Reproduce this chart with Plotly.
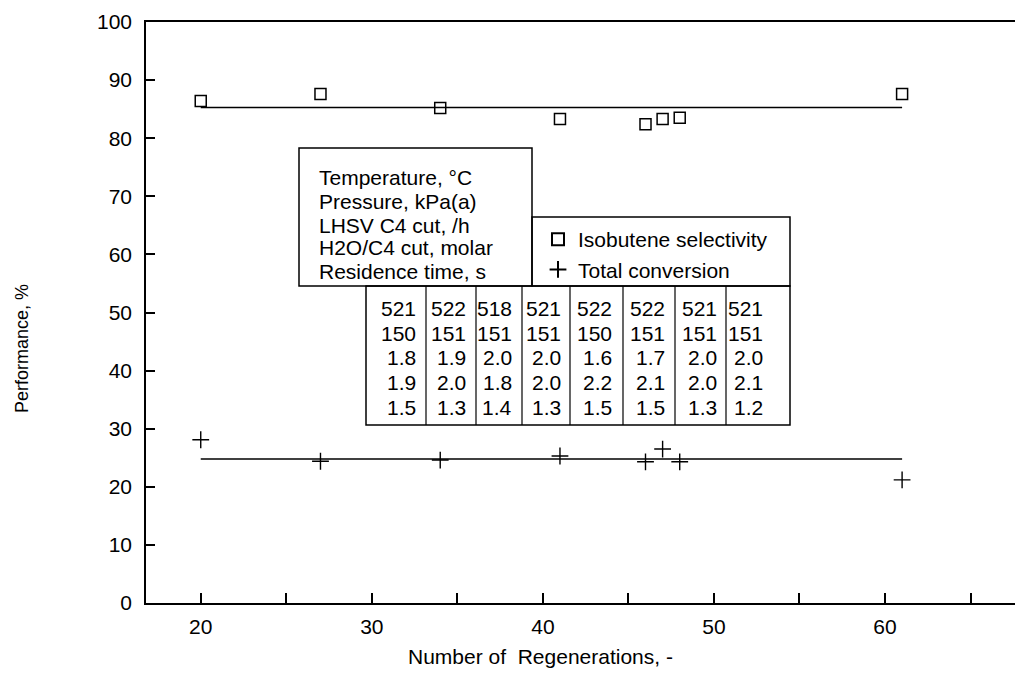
import plotly.graph_objects as go

# ---- data ----
regenerations = [20, 27, 34, 41, 46, 47, 48, 61]
selectivity = [86.4, 87.6, 85.2, 83.3, 82.4, 83.3, 83.5, 87.6]
conversion = [28.1, 24.4, 24.6, 25.3, 24.3, 26.5, 24.3, 21.2]
fit_x = [20, 61]
selectivity_fit = [85.3, 85.3]
conversion_fit = [24.8, 24.8]

row_labels = ["Temperature, °C", "Pressure, kPa(a)", "LHSV C4 cut, /h",
              "H2O/C4 cut, molar", "Residence time, s"]
temperature = ["521", "522", "518", "521", "522", "522", "521", "521"]
pressure = ["150", "151", "151", "151", "150", "151", "151", "151"]
lhsv = ["1.8", "1.9", "2.0", "2.0", "1.6", "1.7", "2.0", "2.0"]
h2o_ratio = ["1.9", "2.0", "1.8", "2.0", "2.2", "2.1", "2.0", "2.1"]
residence = ["1.5", "1.3", "1.4", "1.3", "1.5", "1.5", "1.3", "1.2"]

x_ticks = [20, 25, 30, 35, 40, 45, 50, 55, 60, 65]
x_ticktext = ["20", "", "30", "", "40", "", "50", "", "60", ""]
y_ticks = [0, 10, 20, 30, 40, 50, 60, 70, 80, 90, 100]

# ---- layout helpers (pixel -> paper) ----
W, H = 1015, 673
L, R, T, B = 146, 0, 22, 70
PW, PH = W - L - R, H - T - B


def px(x):
    return (x - L) / PW


def py(y):
    return (H - B - y) / PH


FONT = "Liberation Sans, Arial, sans-serif"
FS = 21

fig = go.Figure()
fig.add_trace(go.Scatter(x=fit_x, y=selectivity_fit, mode="lines",
                         line=dict(color="black", width=1.5), showlegend=False,
                         hoverinfo="skip"))
fig.add_trace(go.Scatter(x=fit_x, y=conversion_fit, mode="lines",
                         line=dict(color="black", width=1.5), showlegend=False,
                         hoverinfo="skip"))
fig.add_trace(go.Scatter(x=regenerations, y=selectivity, mode="markers",
                         name="Isobutene selectivity",
                         marker=dict(symbol="square-open", size=11, color="black",
                                     line=dict(width=1.5))))
fig.add_trace(go.Scatter(x=regenerations, y=conversion, mode="markers",
                         name="Total conversion",
                         marker=dict(symbol="cross-thin-open", size=12, color="black",
                                     line=dict(width=1.4, color="black"))))

shapes = []
# left label box
shapes.append(dict(type="rect", xref="paper", yref="paper",
                   x0=px(299), x1=px(532), y0=py(286), y1=py(148),
                   line=dict(color="black", width=1.5)))
# legend box
shapes.append(dict(type="rect", xref="paper", yref="paper",
                   x0=px(532), x1=px(790), y0=py(286), y1=py(217),
                   line=dict(color="black", width=1.5)))
# table box
shapes.append(dict(type="rect", xref="paper", yref="paper",
                   x0=px(366), x1=px(790), y0=py(425), y1=py(286),
                   line=dict(color="black", width=1.5)))
for dx in [426, 476, 522, 570, 623, 675, 726]:
    shapes.append(dict(type="line", xref="paper", yref="paper",
                       x0=px(dx), x1=px(dx), y0=py(425), y1=py(286),
                       line=dict(color="black", width=1.2)))

annotations = []
label_y = [177, 201, 225, 248, 271]
for txt, yy in zip(row_labels, label_y):
    annotations.append(dict(text=txt, xref="paper", yref="paper", x=px(317), y=py(yy),
                            xanchor="left", yanchor="middle", showarrow=False,
                            font=dict(family=FONT, size=FS, color="black")))

col_right = [418, 468, 514, 563, 614, 667, 719, 765]
row_y = [308, 333, 357, 382, 407]
for rvals, yy in zip([temperature, pressure, lhsv, h2o_ratio, residence], row_y):
    for v, xr in zip(rvals, col_right):
        annotations.append(dict(text=v, xref="paper", yref="paper", x=px(xr), y=py(yy),
                                xanchor="right", yanchor="middle", showarrow=False,
                                font=dict(family=FONT, size=FS, color="black")))

annotations.append(dict(text="Performance, %", xref="paper", yref="paper",
                        x=px(22), y=py(349), textangle=-90, showarrow=False,
                        xanchor="center", yanchor="middle",
                        font=dict(family=FONT, size=18, color="black")))
annotations.append(dict(text="Number of  Regenerations, -", xref="paper", yref="paper",
                        x=px(540), y=py(656), showarrow=False,
                        xanchor="center", yanchor="middle",
                        font=dict(family=FONT, size=FS, color="black")))

fig.update_layout(
    width=W, height=H,
    margin=dict(l=L, r=R, t=T, b=B),
    paper_bgcolor="white", plot_bgcolor="white",
    font=dict(family=FONT, size=FS, color="black"),
    shapes=shapes, annotations=annotations,
    legend=dict(x=px(538), y=py(219), xanchor="left", yanchor="top",
                bgcolor="rgba(0,0,0,0)", borderwidth=0,
                font=dict(family=FONT, size=FS, color="black"),
                tracegroupgap=0, itemsizing="constant"),
    showlegend=True,
)
fig.update_xaxes(range=[16.8, 67.6], tickvals=x_ticks, ticktext=x_ticktext,
                 ticks="inside", ticklen=10, tickwidth=1.5, tickcolor="black",
                 showline=True, linecolor="black", linewidth=1.5, mirror=True,
                 showgrid=False, zeroline=False, ticklabelstandoff=4,
                 tickfont=dict(family=FONT, size=FS, color="black"))
fig.update_yaxes(range=[0, 100], tickvals=y_ticks,
                 ticks="inside", ticklen=9, tickwidth=1.5, tickcolor="black",
                 showline=True, linecolor="black", linewidth=1.5, mirror=False,
                 showgrid=False, zeroline=False, ticklabelstandoff=8,
                 tickfont=dict(family=FONT, size=FS, color="black"))

fig.write_html("out.html")
